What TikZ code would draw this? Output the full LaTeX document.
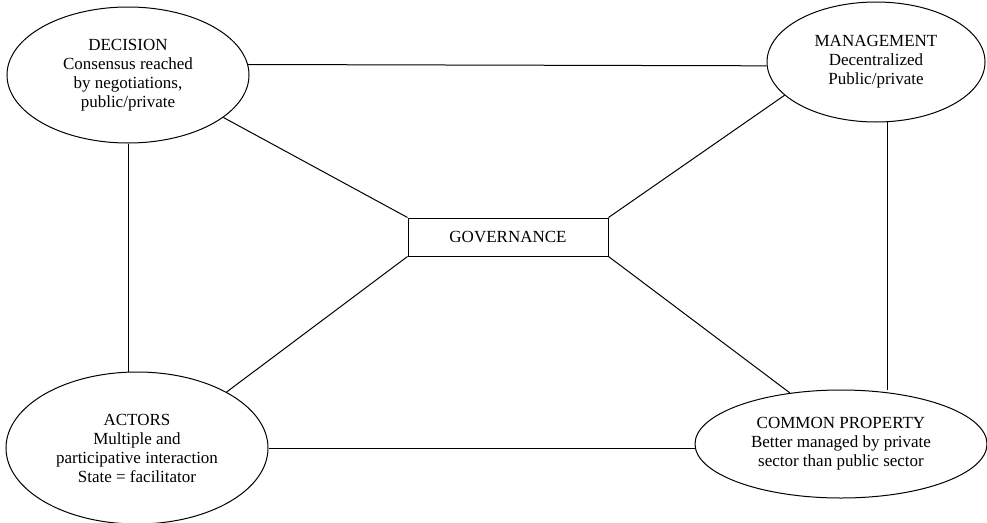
\documentclass[tikz,border=0pt]{standalone}
\usepackage{fontspec}
\setmainfont{Liberation Serif}
\usetikzlibrary{shapes.geometric}
\begin{document}
\begin{tikzpicture}[
    x=1pt, y=-1pt,
    every node/.style={font=\fontsize{17}{19}\selectfont, align=center, inner sep=0pt},
    oval/.style={ellipse, draw, line width=1pt},
    box/.style={rectangle, draw, line width=1pt, minimum width=200pt, minimum height=38pt},
    link/.style={line width=1pt}
    ]
    \useasboundingbox (0,0) rectangle (987,522);
    \node[oval, minimum width=242pt, minimum height=136pt] (decision) at (128,75) {DECISION\\Consensus reached\\by negotiations,\\public/private};
    \node[oval, minimum width=218pt, minimum height=120pt] (management) at (876,62) {MANAGEMENT\\Decentralized\\Public/private};
    \node[oval, minimum width=262pt, minimum height=152pt] (actors) at (137,448) {ACTORS\\Multiple and\\participative interaction\\State = facilitator};
    \node[oval, minimum width=292pt, minimum height=108pt] (common) at (841,444) {COMMON PROPERTY\\Better managed by private\\sector than public sector};
    \node[box] (governance) at (508,237) {GOVERNANCE};
    % outer ring
    \draw[link] (decision.5) -- (management.182);
    \draw[link] (decision.south) -- (decision.south |- actors.north);
    \draw[link] (management.-79) -- (management.-79 |- common.north);
    \draw[link] (actors.east) -- (actors.east -| common.west);
    % spokes from the centre box
    \draw[link] (governance.north west) -- (decision.-24);
    \draw[link] (governance.north east) -- (management.200);
    \draw[link] (governance.south west) -- (actors.32);
    \draw[link] (governance.south east) -- (common.135);
\end{tikzpicture}
\end{document}
